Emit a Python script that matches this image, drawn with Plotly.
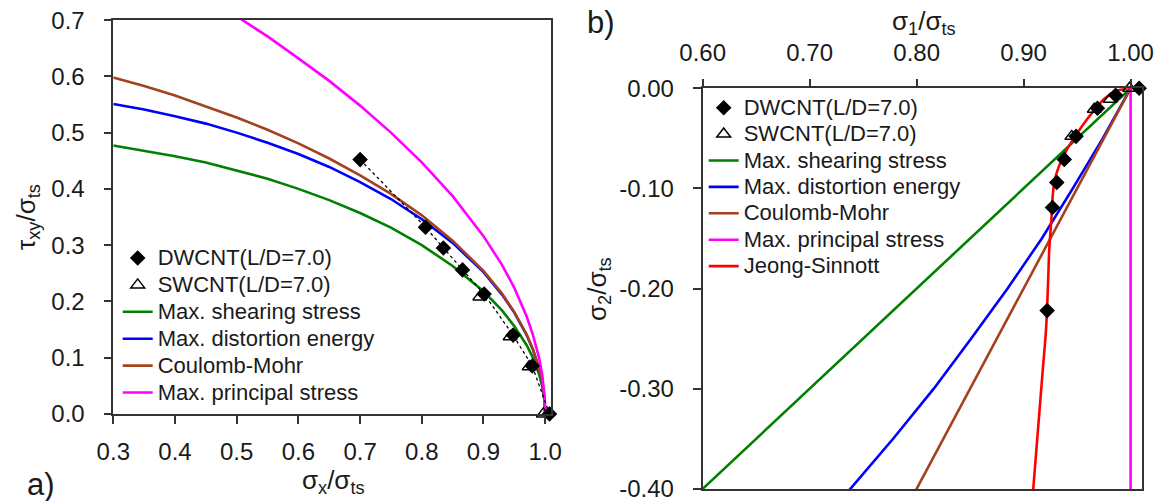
import plotly.graph_objects as go

# ---------------- Panel a) : tau_xy vs sigma_x ----------------
sx_dw = [0.700, 0.806, 0.835, 0.866, 0.901, 0.948, 0.979, 1.007]
txy_dw = [0.452, 0.332, 0.295, 0.256, 0.213, 0.140, 0.085, 0.000]
sx_sw = [0.894, 0.943, 0.974, 0.997]
txy_sw = [0.208, 0.137, 0.084, 0.000]

sx_th = [0.30, 0.35, 0.40, 0.45, 0.50, 0.55, 0.60, 0.65, 0.70, 0.75, 0.80,
         0.85, 0.90, 0.93, 0.95, 0.97, 0.98, 0.99, 0.995, 0.999, 1.00]
txy_shear = [0.477, 0.468, 0.458, 0.447, 0.433, 0.418, 0.400, 0.380, 0.357, 0.331, 0.300,
             0.263, 0.218, 0.184, 0.156, 0.122, 0.100, 0.071, 0.050, 0.022, 0.000]
txy_dist = [0.551, 0.541, 0.529, 0.516, 0.500, 0.482, 0.462, 0.439, 0.412, 0.382, 0.346,
            0.304, 0.252, 0.212, 0.180, 0.140, 0.115, 0.081, 0.058, 0.026, 0.000]
txy_cm = [0.598, 0.583, 0.566, 0.547, 0.527, 0.505, 0.481, 0.454, 0.424, 0.391, 0.353,
          0.308, 0.254, 0.214, 0.181, 0.141, 0.115, 0.082, 0.058, 0.026, 0.000]
sx_pr = [0.49, 0.50, 0.55, 0.60, 0.65, 0.70, 0.75, 0.80, 0.85, 0.90, 0.93,
         0.95, 0.97, 0.98, 0.99, 0.995, 0.999, 1.00]
txy_pr = [0.714, 0.707, 0.671, 0.632, 0.592, 0.548, 0.500, 0.447, 0.387, 0.316, 0.265,
          0.224, 0.173, 0.141, 0.100, 0.071, 0.032, 0.000]

xa_ticks = [0.3, 0.4, 0.5, 0.6, 0.7, 0.8, 0.9, 1.0]
ya_ticks = [0.0, 0.1, 0.2, 0.3, 0.4, 0.5, 0.6, 0.7]

# ---------------- Panel b) : sigma_2 vs sigma_1 ----------------
s1_dw = [1.008, 0.986, 0.969, 0.949, 0.938, 0.931, 0.927, 0.922]
s2_dw = [0.000, -0.007, -0.020, -0.048, -0.071, -0.094, -0.119, -0.222]
s1_sw = [0.999, 0.981, 0.966, 0.945]
s2_sw = [0.000, -0.011, -0.021, -0.048]

s2_lin = [0.00, -0.42]
s1_shear = [1.00, 0.58]
s1_cm = [1.00, 0.79]
s1_pr = [1.00, 1.00]
s2_vm = [0.00, -0.05, -0.10, -0.15, -0.20, -0.25, -0.30, -0.35, -0.40, -0.42]
s1_vm = [1.000, 0.974, 0.946, 0.917, 0.885, 0.851, 0.816, 0.778, 0.738, 0.722]
s1_js = [1.000, 0.992, 0.984, 0.976, 0.969, 0.960, 0.950, 0.940, 0.933, 0.929,
         0.927, 0.926, 0.924, 0.923, 0.921, 0.918, 0.915, 0.912, 0.909, 0.908]
s2_js = [0.000, -0.001, -0.004, -0.010, -0.018, -0.030, -0.045, -0.062, -0.078, -0.092,
         -0.110, -0.130, -0.160, -0.190, -0.240, -0.280, -0.320, -0.360, -0.400, -0.415]

xb_ticks = [0.6, 0.7, 0.8, 0.9, 1.0]
xb_text = ["0.60", "0.70", "0.80", "0.90", "1.00"]
yb_ticks = [0.0, -0.1, -0.2, -0.3, -0.4]
yb_text = ["0.00", "-0.10", "-0.20", "-0.30", "-0.40"]

# ---------------- styling ----------------
FONT = "Liberation Sans, Arial, sans-serif"
GREEN, BLUE, BROWN, MAGENTA, RED = "#008000", "#0000ff", "#a3421c", "#ff00ff", "#ff0000"
LW = 2.6
AX = "#333333"
TXT = "#1a1a1a"


def lbl(t):
    return '<span style="font-size:22px">' + t + '</span>'


fig = go.Figure()

# ----- panel a curves -----
for ys, col, name, rank in [(txy_shear, GREEN, "Max. shearing stress", 3),
                            (txy_dist, BLUE, "Max. distortion energy", 4),
                            (txy_cm, BROWN, "Coulomb-Mohr", 5)]:
    fig.add_trace(go.Scatter(x=sx_th, y=ys, mode="lines", line=dict(color=col, width=LW),
                             name=lbl(name), legend="legend", legendrank=rank,
                             xaxis="x", yaxis="y"))
fig.add_trace(go.Scatter(x=sx_pr, y=txy_pr, mode="lines", line=dict(color=MAGENTA, width=LW),
                         name=lbl("Max. principal stress"), legend="legend", legendrank=6,
                         xaxis="x", yaxis="y"))
fig.add_trace(go.Scatter(x=sx_dw, y=txy_dw, mode="lines", line=dict(color="black", width=1.3, dash="dot"),
                         showlegend=False, xaxis="x", yaxis="y"))
fig.add_trace(go.Scatter(x=sx_sw, y=txy_sw, mode="markers",
                         marker=dict(symbol="triangle-up-open", size=12, color="black", line=dict(width=1.5)),
                         name=lbl("SWCNT(L/D=7.0)"), legend="legend", legendrank=2,
                         cliponaxis=False, xaxis="x", yaxis="y"))
fig.add_trace(go.Scatter(x=sx_dw, y=txy_dw, mode="markers",
                         marker=dict(symbol="diamond", size=12, color="black"),
                         name=lbl("DWCNT(L/D=7.0)"), legend="legend", legendrank=1,
                         cliponaxis=False, xaxis="x", yaxis="y"))

# ----- panel b curves -----
fig.add_trace(go.Scatter(x=s1_shear, y=s2_lin, mode="lines", line=dict(color=GREEN, width=LW),
                         name=lbl("Max. shearing stress"), legend="legend2", legendrank=3,
                         xaxis="x2", yaxis="y2"))
fig.add_trace(go.Scatter(x=s1_vm, y=s2_vm, mode="lines", line=dict(color=BLUE, width=LW),
                         name=lbl("Max. distortion energy"), legend="legend2", legendrank=4,
                         xaxis="x2", yaxis="y2"))
fig.add_trace(go.Scatter(x=s1_cm, y=s2_lin, mode="lines", line=dict(color=BROWN, width=LW),
                         name=lbl("Coulomb-Mohr"), legend="legend2", legendrank=5,
                         xaxis="x2", yaxis="y2"))
fig.add_trace(go.Scatter(x=s1_pr, y=s2_lin, mode="lines", line=dict(color=MAGENTA, width=LW),
                         name=lbl("Max. principal stress"), legend="legend2", legendrank=6,
                         xaxis="x2", yaxis="y2"))
fig.add_trace(go.Scatter(x=s1_js, y=s2_js, mode="lines", line=dict(color=RED, width=LW, shape="spline"),
                         name=lbl("Jeong-Sinnott"), legend="legend2", legendrank=7,
                         xaxis="x2", yaxis="y2"))
fig.add_trace(go.Scatter(x=s1_sw, y=s2_sw, mode="markers",
                         marker=dict(symbol="triangle-up-open", size=12, color="black", line=dict(width=1.5)),
                         name=lbl("SWCNT(L/D=7.0)"), legend="legend2", legendrank=2,
                         cliponaxis=False, xaxis="x2", yaxis="y2"))
fig.add_trace(go.Scatter(x=s1_dw, y=s2_dw, mode="markers",
                         marker=dict(symbol="diamond", size=12, color="black"),
                         name=lbl("DWCNT(L/D=7.0)"), legend="legend2", legendrank=1,
                         cliponaxis=False, xaxis="x2", yaxis="y2"))

W, H = 1154, 501


def px(x):
    return x / W


def py(y):
    return 1 - y / H


axis_common = dict(showline=True, linecolor=AX, linewidth=1.6, mirror=True, ticks="outside",
                   ticklen=8, tickwidth=1.5, tickcolor=AX, showgrid=False, zeroline=False,
                   automargin=False, ticklabeloverflow="allow",
                   tickfont=dict(family=FONT, size=24, color=TXT))

fig.update_layout(
    width=W, height=H, autosize=False,
    margin=dict(l=0, r=0, t=0, b=0, pad=0, autoexpand=False),
    paper_bgcolor="white", plot_bgcolor="white",
    font=dict(family=FONT, color=TXT),
    xaxis=dict(domain=[px(113.3), px(550.5)], range=[0.3, 1.0086], tickvals=xa_ticks,
               tickformat=".1f", anchor="y", ticklabelstandoff=7, **axis_common),
    yaxis=dict(domain=[py(414), py(20)], range=[-0.0002, 0.7002], tickvals=ya_ticks,
               tickformat=".1f", anchor="x", ticklabelstandoff=14, **axis_common),
    xaxis2=dict(domain=[px(702.5), px(1141.5)], range=[0.5998, 1.0102], tickvals=xb_ticks,
                ticktext=xb_text, side="top", anchor="y2", ticklabelstandoff=8, **axis_common),
    yaxis2=dict(domain=[py(489.2), py(88.3)], range=[-0.4004, 0.0], tickvals=yb_ticks,
                ticktext=yb_text, anchor="x2", ticklabelstandoff=14, **axis_common),
    legend=dict(x=px(117.7), y=py(239.5), xanchor="left", yanchor="top",
                bgcolor="rgba(0,0,0,0)", font=dict(family=FONT, size=18.4, color=TXT),
                tracegroupgap=0),
    legend2=dict(x=px(703.7), y=py(89.5), xanchor="left", yanchor="top",
                 bgcolor="rgba(0,0,0,0)", font=dict(family=FONT, size=18.0, color=TXT),
                 tracegroupgap=0),
    annotations=[
        dict(text="σ<sub>x</sub>/σ<sub>ts</sub>", x=px(333), y=py(481), xref="paper", yref="paper",
             showarrow=False, font=dict(size=26), xanchor="center", yanchor="middle"),
        dict(text="τ<sub>xy</sub>/σ<sub>ts</sub>", x=px(27), y=py(217), xref="paper", yref="paper",
             showarrow=False, font=dict(size=26), textangle=-90, xanchor="center", yanchor="middle"),
        dict(text="σ<sub>1</sub>/σ<sub>ts</sub>", x=px(924), y=py(23), xref="paper", yref="paper",
             showarrow=False, font=dict(size=26), xanchor="center", yanchor="middle"),
        dict(text="σ<sub>2</sub>/σ<sub>ts</sub>", x=px(598), y=py(289), xref="paper", yref="paper",
             showarrow=False, font=dict(size=26), textangle=-90, xanchor="center", yanchor="middle"),
        dict(text="a)", x=px(41), y=py(484), xref="paper", yref="paper",
             showarrow=False, font=dict(size=31), xanchor="center", yanchor="middle"),
        dict(text="b)", x=px(601), y=py(22), xref="paper", yref="paper",
             showarrow=False, font=dict(size=31), xanchor="center", yanchor="middle"),
    ],
)

fig.write_html("out.html", config={"displayModeBar": False},
               post_script="document.body.style.margin='0';document.body.style.overflow='hidden';")
